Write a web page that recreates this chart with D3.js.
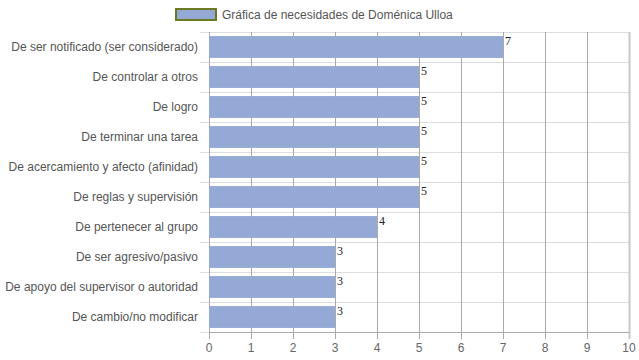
<!DOCTYPE html>
<html><head><meta charset="utf-8">
<script src="https://cdn.jsdelivr.net/npm/d3@7"></script>
<style>body{margin:0;background:#fff;}svg{display:block;} .vl{font-family:'Liberation Serif','Times New Roman',serif;font-size:12px;}</style>
</head><body>
<svg id="c" width="639" height="360"></svg>
<script>
const categories = ["De ser notificado (ser considerado)","De controlar a otros","De logro","De terminar una tarea","De acercamiento y afecto (afinidad)","De reglas y supervisión","De pertenecer al grupo","De ser agresivo/pasivo","De apoyo del supervisor o autoridad","De cambio/no modificar"];
const values = [7,5,5,5,5,5,4,3,3,3];
const xTicks = [0,1,2,3,4,5,6,7,8,9,10];
const seriesName = "Gráfica de necesidades de Doménica Ulloa";

const svg = d3.select("#c");
const m = {l:209, r:629, t:32, b:332};
const x = d3.scaleLinear().domain([0,10]).range([m.l, m.r]);
const y = d3.scaleBand().domain(categories).range([m.t, m.b]).paddingInner(0.27).paddingOuter(0.135);
const yb = d3.scaleBand().domain(categories).range([m.t, m.b]);

const hs = categories.map(c => yb(c)).concat([m.b]);
svg.append("g").selectAll("line").data(hs).join("line")
  .attr("x1", m.l-9).attr("x2", m.r).attr("y1", d=>Math.round(d)+0.5).attr("y2", d=>Math.round(d)+0.5)
  .attr("stroke", "#dddddd");
svg.append("g").selectAll("line").data(xTicks).join("line")
  .attr("x1", d=>Math.round(x(d))+0.5).attr("x2", d=>Math.round(x(d))+0.5)
  .attr("y1", m.t).attr("y2", m.b+7)
  .attr("stroke", d => d===10 ? "#c8c8c8" : "#aaaaaa").attr("stroke-width", d=> d===10?2:1);

svg.append("g").selectAll("rect").data(values).join("rect")
  .attr("x", x(0)).attr("y", (d,i)=>y(categories[i]))
  .attr("width", d=>x(d)-x(0)).attr("height", y.bandwidth())
  .attr("fill", "#94a9d6");

svg.append("g").selectAll("text").data(values).join("text")
  .attr("class", "vl")
  .attr("x", d=>x(d)+2).attr("y", (d,i)=>y(categories[i])+9)
  .attr("fill", "#222").text(d=>d);

svg.append("line").attr("x1", m.l).attr("x2", m.r).attr("y1", m.b+0.5).attr("y2", m.b+0.5).attr("stroke", "#aaaaaa");

svg.append("g").selectAll("text").data(xTicks).join("text")
  .attr("x", d=>x(d)).attr("y", 352).attr("text-anchor", "middle")
  .attr("font-family", "Liberation Sans, Arial, sans-serif").attr("font-size", 12)
  .attr("fill", "#666").text(d=>d);

svg.append("g").selectAll("text").data(categories).join("text")
  .attr("x", 198).attr("y", c=>yb(c)+yb.bandwidth()/2+3.5).attr("text-anchor", "end")
  .attr("font-family", "Liberation Sans, Arial, sans-serif").attr("font-size", 12)
  .attr("fill", "#555").text(c=>c);

svg.append("rect").attr("x", 176).attr("y", 9).attr("width", 40).attr("height", 11)
  .attr("fill", "#94a9d6").attr("stroke", "#6b7a20").attr("stroke-width", 2);
svg.append("text").attr("x", 222).attr("y", 19).attr("font-family", "Liberation Sans, Arial, sans-serif")
  .attr("font-size", 12).attr("fill", "#555").text(seriesName);
</script>
</body></html>
